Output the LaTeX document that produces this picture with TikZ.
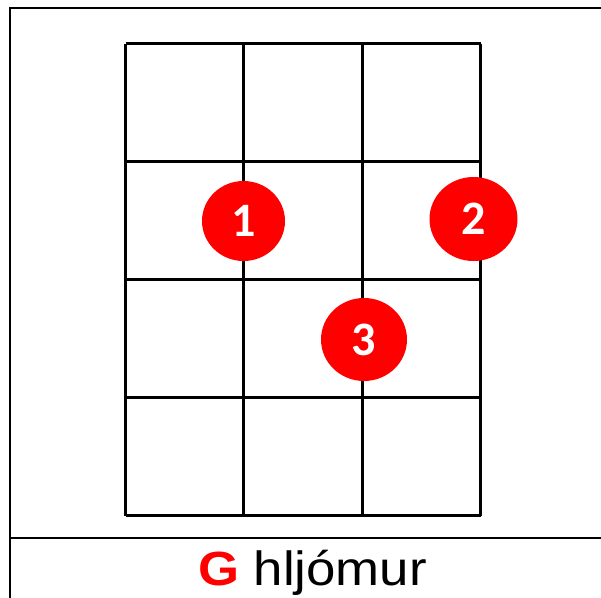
\documentclass[tikz,border=0pt]{standalone}
\usepackage{fontspec}
\usetikzlibrary{shapes.geometric}
\setmainfont{Liberation Sans}
\newfontfamily\digitfont{Carlito}
\definecolor{dotred}{RGB}{255,0,0}
\begin{document}
\begin{tikzpicture}[x=1pt,y=-1pt,
  gridline/.style={line width=3pt,black},
  frame/.style={line width=2pt,black},
  fingerdot/.style={ellipse,fill=dotred,inner sep=0pt,text=white,
    font=\digitfont\bfseries\fontsize{48}{48}\selectfont}]
\useasboundingbox (0,0) rectangle (601,597);
% outer frame
\coordinate (fTL) at (10,8);
\coordinate (fTR) at (602,8);
\coordinate (fBL) at (10,600);
\coordinate (sL) at (10,538);
\coordinate (sR) at (602,538);
\draw[frame] (fTR) -- (fTL) -- (fBL);
\draw[frame] (sL) -- (sR);
% grid
\foreach \x in {125.5,243.8,362,480.5}
  \draw[gridline] (\x,43.5) -- (\x,515.5);
\foreach \y in {43.5,161.5,279.5,397,515.5}
  \draw[gridline] (125.5,\y) -- (480.5,\y);
% finger dots
\node[fingerdot,minimum width=83pt,minimum height=80pt] (d1) at (243.5,221) {1};
\node[fingerdot,minimum width=88pt,minimum height=84pt] (d2) at (473.5,219) {2};
\node[fingerdot,minimum width=86pt,minimum height=83pt] (d3) at (364,339.5) {3};
% caption
\node[anchor=base,inner sep=0pt,font=\fontsize{48}{48}\selectfont] (cap) at (312.5,585)
  {\scalebox{1.1}[1]{\textcolor{dotred}{\bfseries G} hljómur}};
\end{tikzpicture}
\end{document}
